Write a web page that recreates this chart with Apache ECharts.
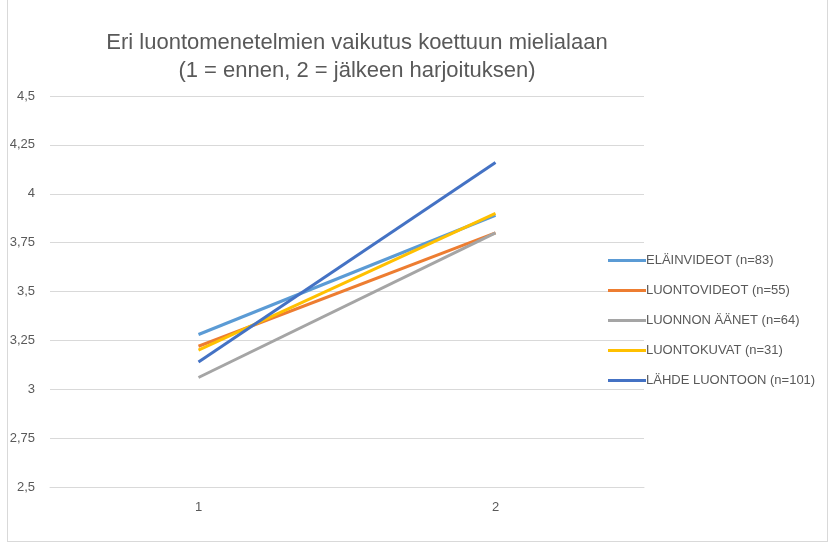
<!DOCTYPE html>
<html>
<head>
<meta charset="utf-8">
<script src="https://cdn.jsdelivr.net/npm/echarts@6/dist/echarts.min.js"></script>
<style>
  html, body { margin: 0; padding: 0; background: #fff; }
  #wrap { position: absolute; left: 7px; top: -1px; width: 819px; height: 541px; border: 1px solid #d9d9d9; }
  #chart { position: absolute; left: 0; top: 0; width: 833px; height: 546px; }
</style>
</head>
<body>
<div id="wrap"></div>
<div id="chart"></div>
<script>
var categories = ['1', '2']
var seriesNames = [
  'ELÄINVIDEOT (n=83)',
  'LUONTOVIDEOT (n=55)',
  'LUONNON ÄÄNET (n=64)',
  'LUONTOKUVAT (n=31)',
  'LÄHDE LUONTOON (n=101)'
]
var elainvideot = [3.28, 3.89]
var luontovideot = [3.22, 3.80]
var luonnonAanet = [3.06, 3.80]
var luontokuvat = [3.20, 3.90]
var lahdeLuontoon = [3.14, 4.16]
var colors = ['#5B9BD5', '#ED7D31', '#A5A5A5', '#FFC000', '#4472C4']

var allValues = [elainvideot, luontovideot, luonnonAanet, luontokuvat, lahdeLuontoon]

var chart = echarts.init(document.getElementById('chart'))

var font = 'Liberation Sans, Arial, sans-serif'

var series = []
for (var i = 0; i < seriesNames.length; i++) {
  series.push({
    name: seriesNames[i],
    type: 'line',
    data: allValues[i],
    symbol: 'none',
    lineStyle: { width: 3, color: colors[i] },
    itemStyle: { color: colors[i] },
    z: i + 2
  })
}

var option = {
  animation: false,
  title: {
    text: 'Eri luontomenetelmien vaikutus koettuun mielialaan\n(1 = ennen, 2 = jälkeen harjoituksen)',
    left: 352,
    textAlign: 'center',
    top: 24,
    textStyle: {
      fontFamily: font,
      fontSize: 22,
      fontWeight: 'normal',
      color: '#595959',
      lineHeight: 28
    }
  },
  legend: {
    orient: 'vertical',
    left: 603,
    top: 249,
    icon: 'rect',
    itemWidth: 38,
    itemHeight: 3,
    itemGap: 17,
    data: seriesNames,
    textStyle: { fontFamily: font, fontSize: 13, color: '#595959', padding: [0, 0, 0, -5] }
  },
  grid: { left: 50, right: 189, top: 96, bottom: 59 },
  xAxis: {
    type: 'category',
    data: categories,
    boundaryGap: true,
    axisLine: { lineStyle: { color: '#d9d9d9' } },
    axisTick: { show: false },
    axisLabel: { fontFamily: font, fontSize: 13, color: '#595959', margin: 14 }
  },
  yAxis: {
    type: 'value',
    min: 2.5,
    max: 4.5,
    interval: 0.25,
    axisLine: { show: false },
    axisTick: { show: false },
    splitLine: { lineStyle: { color: '#d9d9d9', width: 1 } },
    axisLabel: {
      fontFamily: font,
      fontSize: 13,
      color: '#595959',
      margin: 15,
      formatter: function (v) { return String(v).replace('.', ',') }
    }
  },
  series: series
}

chart.setOption(option)
</script>
</body>
</html>
